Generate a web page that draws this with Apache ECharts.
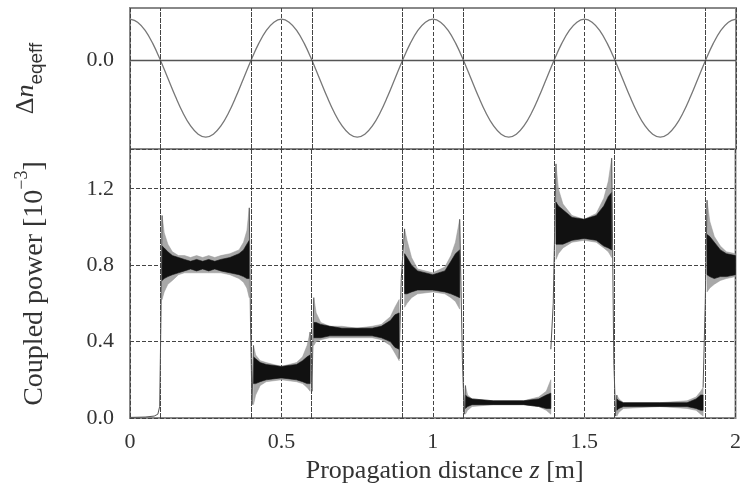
<!DOCTYPE html>
<html><head><meta charset="utf-8">
<script src="https://cdn.jsdelivr.net/npm/echarts@6/dist/echarts.min.js"></script>
<style>html,body{margin:0;padding:0;background:#fff}#c{width:744px;height:489px}</style>
</head><body><div id="c"></div>
<script>
// ---- data ----
const xTickLabels = ['0', '0.5', '1', '1.5', '2'];
const powerTicks = [0.0, 0.4, 0.8, 1.2];
const boundaries = [0.1, 0.4, 0.6, 0.9, 1.1, 1.4, 1.6, 1.9];
const sineStep = 0.025;
const deltaN = [
  0.69,0.64,0.50,0.28,0.00,-0.31,-0.62,-0.90,-1.12,-1.26,-1.31,-1.26,-1.12,-0.90,-0.62,-0.31,0.00,0.28,0.50,0.64,
  0.69,0.64,0.50,0.28,0.00,-0.31,-0.62,-0.90,-1.12,-1.26,-1.31,-1.26,-1.12,-0.90,-0.62,-0.31,0.00,0.28,0.50,0.64,
  0.69,0.64,0.50,0.28,0.00,-0.31,-0.62,-0.90,-1.12,-1.26,-1.31,-1.26,-1.12,-0.90,-0.62,-0.31,0.00,0.28,0.50,0.64,
  0.69,0.64,0.50,0.28,0.00,-0.31,-0.62,-0.90,-1.12,-1.26,-1.31,-1.26,-1.12,-0.90,-0.62,-0.31,0.00,0.28,0.50,0.64,
  0.69
];
// coupled power envelopes: [z, outerLow, innerLow, innerHigh, outerHigh]
const seg1 = [[0.106,0.62,0.72,0.90,1.06],[0.113,0.66,0.73,0.89,0.97],[0.125,0.70,0.74,0.87,0.91],[0.14,0.72,0.75,0.85,0.87],
  [0.16,0.75,0.76,0.84,0.85],[0.18,0.76,0.77,0.83,0.85],[0.2,0.76,0.78,0.82,0.84],[0.22,0.76,0.77,0.83,0.85],[0.24,0.76,0.78,0.82,0.84],
  [0.26,0.76,0.77,0.83,0.85],[0.28,0.76,0.78,0.82,0.84],[0.3,0.76,0.77,0.83,0.85],[0.33,0.75,0.76,0.84,0.86],[0.36,0.73,0.75,0.86,0.88],
  [0.375,0.71,0.74,0.88,0.92],[0.386,0.68,0.73,0.91,0.98],[0.394,0.63,0.73,0.93,1.10]];
const seg2 = [[0.408,0.07,0.18,0.32,0.38],[0.415,0.12,0.18,0.31,0.33],[0.43,0.17,0.19,0.29,0.30],[0.45,0.19,0.20,0.28,0.29],
  [0.5,0.20,0.21,0.27,0.27],[0.55,0.19,0.20,0.28,0.29],[0.57,0.18,0.19,0.30,0.32],[0.585,0.16,0.18,0.32,0.38],[0.595,0.14,0.18,0.33,0.45]];
const seg3 = [[0.607,0.38,0.42,0.50,0.63],[0.615,0.40,0.42,0.50,0.55],[0.63,0.41,0.42,0.49,0.50],[0.66,0.42,0.43,0.48,0.48],
  [0.7,0.42,0.43,0.47,0.48],[0.75,0.42,0.43,0.47,0.47],[0.8,0.42,0.43,0.47,0.48],[0.83,0.41,0.42,0.48,0.49],[0.86,0.38,0.40,0.51,0.53],
  [0.875,0.34,0.37,0.54,0.58],[0.889,0.30,0.36,0.55,0.62]];
const seg4 = [[0.907,0.58,0.65,0.86,0.99],[0.915,0.60,0.65,0.84,0.93],[0.93,0.63,0.66,0.80,0.84],[0.95,0.65,0.67,0.77,0.78],
  [1.0,0.66,0.67,0.75,0.76],[1.04,0.65,0.66,0.77,0.79],[1.06,0.63,0.65,0.82,0.85],[1.075,0.61,0.64,0.86,0.92],[1.089,0.57,0.63,0.88,1.04]];
const seg5 = [[1.108,0.02,0.05,0.12,0.17],[1.115,0.04,0.06,0.11,0.12],[1.13,0.06,0.07,0.10,0.10],[1.2,0.07,0.07,0.09,0.09],
  [1.3,0.07,0.07,0.09,0.09],[1.35,0.06,0.06,0.10,0.11],[1.375,0.04,0.05,0.12,0.14],[1.39,0.02,0.05,0.13,0.20]];
const seg6 = [[1.407,0.83,0.91,1.13,1.33],[1.415,0.86,0.91,1.11,1.20],[1.43,0.89,0.91,1.09,1.12],[1.46,0.92,0.93,1.05,1.06],
  [1.5,0.93,0.94,1.04,1.04],[1.54,0.92,0.93,1.06,1.07],[1.565,0.89,0.90,1.11,1.15],[1.58,0.87,0.89,1.16,1.24],[1.591,0.84,0.88,1.18,1.36]];
const seg7 = [[1.608,0.01,0.04,0.10,0.12],[1.615,0.03,0.05,0.09,0.10],[1.63,0.05,0.06,0.08,0.08],[1.75,0.06,0.06,0.08,0.08],
  [1.84,0.05,0.06,0.08,0.09],[1.87,0.04,0.05,0.10,0.11],[1.885,0.02,0.04,0.12,0.14],[1.893,0.01,0.04,0.12,0.16]];
const seg8 = [[1.906,0.66,0.75,0.96,1.14],[1.915,0.68,0.74,0.95,1.03],[1.93,0.70,0.73,0.92,0.95],[1.95,0.72,0.74,0.88,0.90],
  [1.97,0.73,0.74,0.86,0.87],[2.0,0.74,0.75,0.85,0.86]];
const segments = [seg1, seg2, seg3, seg4, seg5, seg6, seg7, seg8];
// thin trace: lead-in and transitions
const trace = [[0,0.003],[0.05,0.005],[0.08,0.01],[0.092,0.02],[0.098,0.06],[0.102,0.5],[0.106,1.06],null,
  [0.394,1.10],[0.398,0.5],[0.403,0.07],[0.408,0.38],null,
  [0.595,0.45],[0.601,0.14],[0.607,0.63],null,
  [0.889,0.31],[0.896,0.73],[0.907,0.99],null,
  [1.089,1.04],[1.098,0.3],[1.104,0.02],[1.108,0.17],null,
  [1.39,0.36],[1.398,0.6],[1.407,1.33],null,
  [1.591,1.36],[1.598,0.3],[1.604,0.01],[1.608,0.12],null,
  [1.893,0.16],[1.9,0.6],[1.906,1.14]];

// ---- chart ----
const serif = 'Liberation Serif';
const chart = echarts.init(document.getElementById('c'), null, {renderer:'canvas'});
const gridLine = {color:'#444', width:1, type:[4,2]};
const sineData = deltaN.map((v,i)=>[+(i*sineStep).toFixed(3), v]);

function bandSeries(lo, hi, color, opacity, z) {
  return {
    type:'custom', xAxisIndex:1, yAxisIndex:1, z:z, silent:true, clip:true,
    data: segments.map((s,i)=>[s[0][0], s[0][hi]]),
    renderItem: function(params, api) {
      const seg = segments[params.dataIndex];
      const pts = [];
      seg.forEach(r => pts.push(api.coord([r[0], r[hi]])));
      for (let k = seg.length-1; k >= 0; k--) pts.push(api.coord([seg[k][0], seg[k][lo]]));
      return {type:'polygon', shape:{points:pts}, style:{fill:color, opacity:opacity, stroke:color, lineWidth:0.6}};
    }
  };
}

const option = {
  animation:false,
  backgroundColor:'#fff',
  grid:[
    {left:130, right:8, top:8, height:141, show:true, borderColor:'#888', borderWidth:2},
    {left:130, right:8, top:149, height:271, show:true, borderColor:'#888', borderWidth:2}
  ],
  xAxis:[
    {gridIndex:0, type:'value', min:0, max:2, interval:0.5, axisLine:{show:false}, axisTick:{show:false},
     axisLabel:{show:false}, splitLine:{show:true, lineStyle:gridLine}},
    {gridIndex:1, type:'value', min:0, max:2, interval:0.5, axisLine:{show:false}, axisTick:{show:false},
     axisLabel:{show:true, margin:13, fontFamily:serif, fontSize:22, color:'#333',
       formatter:(v)=>{const i=Math.round(v/0.5); return Math.abs(v-i*0.5)<1e-6 ? xTickLabels[i] : '';}},
     splitLine:{show:true, lineStyle:gridLine},
     name:'{a|Propagation distance }{i|z}{a| [m]}', nameLocation:'middle', nameGap:40,
     nameTextStyle:{padding:[0,0,0,24], rich:{a:{fontFamily:serif, fontSize:26, color:'#333'}, i:{fontFamily:serif, fontSize:26, fontStyle:'italic', color:'#333'}}}}
  ],
  yAxis:[
    {gridIndex:0, type:'value', min:-1.51, max:0.88, axisLine:{show:false}, axisTick:{show:false}, splitLine:{show:false},
     axisLabel:{show:true, customValues:[0], margin:16, fontFamily:serif, fontSize:22, color:'#333', formatter:()=> '0.0'},
     name:'{d|Δ}{n|n}{s|eqeff}', nameLocation:'middle', nameRotate:90, nameGap:84,
     nameTextStyle:{rich:{
       d:{fontFamily:serif, fontSize:26, color:'#333', lineHeight:40},
       n:{fontFamily:serif, fontSize:26, fontStyle:'italic', color:'#333', lineHeight:40},
       s:{fontFamily:'Liberation Sans', fontSize:19, color:'#333', lineHeight:18, verticalAlign:'bottom'}}}},
    {gridIndex:1, type:'value', min:0, max:1.408, interval:0.4, axisLine:{show:false}, axisTick:{show:false},
     splitLine:{show:true, lineStyle:gridLine},
     axisLabel:{show:true, margin:16, fontFamily:serif, fontSize:22, color:'#333',
       formatter:(v)=>{const i=Math.round(v/0.4); return (Math.abs(v-i*0.4)<1e-6 && i<powerTicks.length) ? powerTicks[i].toFixed(1) : '';}},
     name:'{a|Coupled power [10}{s|−3}{a|]}', nameLocation:'middle', nameRotate:90, nameGap:73,
     nameTextStyle:{rich:{
       a:{fontFamily:serif, fontSize:28, color:'#333', lineHeight:44},
       s:{fontFamily:serif, fontSize:18, color:'#333', lineHeight:16, verticalAlign:'top'}}}}
  ],
  series:[
    {type:'line', xAxisIndex:0, yAxisIndex:0, data:sineData, smooth:0.4, showSymbol:false, silent:true,
     lineStyle:{color:'#777', width:1.3}, z:3,
     markLine:{silent:true, symbol:'none', label:{show:false}, animation:false,
       data:[{yAxis:0, lineStyle:{color:'#555', width:1.3, type:'solid'}}].concat(
         boundaries.map(b=>({xAxis:b, lineStyle:{color:'#444', width:1, type:[5,1]}})))}},
    {type:'line', xAxisIndex:1, yAxisIndex:1, data:[], silent:true,
     markLine:{silent:true, symbol:'none', label:{show:false}, animation:false,
       data: boundaries.map(b=>({xAxis:b, lineStyle:{color:'#444', width:1, type:[5,1]}}))}},
    bandSeries(1, 4, '#999999', 0.85, 4),
    bandSeries(2, 3, '#111111', 1, 5),
    {type:'line', xAxisIndex:1, yAxisIndex:1, data:trace, showSymbol:false, silent:true, connectNulls:false,
     lineStyle:{color:'#555', width:1}, z:6}
  ]
};
chart.setOption(option);
</script></body></html>
